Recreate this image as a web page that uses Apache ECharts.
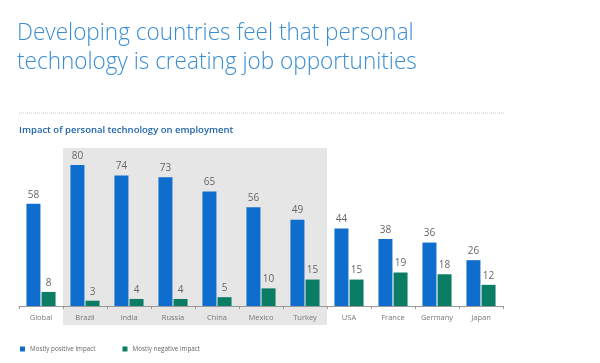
<!DOCTYPE html>
<html><head><meta charset="utf-8">
<script src="https://cdn.jsdelivr.net/npm/echarts@6/dist/echarts.min.js"></script>
<style>html,body{margin:0;padding:0;background:#fff;}#c{width:600px;height:363px;}</style>
</head><body><div id="c"></div>
<script>
var categories = ['Global','Brazil','India','Russia','China','Mexico','Turkey','USA','France','Germany','Japan'];
var positive = [58,80,74,73,65,56,49,44,38,36,26];
var negative = [8,3,4,4,5,10,15,15,19,18,12];
var seriesNames = ['Mostly positive impact','Mostly negative impact'];
var highlighted = ['Brazil','Turkey'];
var titleLines = ['Developing countries feel that personal','technology is creating job opportunities'];
var subtitle = 'Impact of personal technology on employment';

var chart = echarts.init(document.getElementById('c'), null, {renderer:'canvas'});
var labelStyle = {show:true, position:'top', distance:4, color:'#666', fontSize:10, fontFamily:'Open Sans'};
var option = {
  animation:false,
  backgroundColor:'#fff',
  grid:{left:19, right:97, top:165, bottom:57},
  xAxis:{type:'category', data:categories,
    axisLine:{lineStyle:{color:'#999', width:1}},
    axisTick:{show:true, length:3, lineStyle:{color:'#999'}},
    axisLabel:{color:'#777', fontSize:7.5, margin:8, interval:0, fontFamily:'Open Sans'}},
  yAxis:{type:'value', min:0, max:80, show:false, splitLine:{show:false}},
  legend:{left:15, top:341, itemWidth:5, itemHeight:5, itemGap:27, icon:'rect',
    textStyle:{color:'#666', fontSize:6.3, fontFamily:'Open Sans'}},
  series:[
    {name:seriesNames[0], type:'bar', data:positive, barWidth:14, barGap:'8%', itemStyle:{color:'#0f6ecd'}, label:labelStyle, z:3},
    {name:seriesNames[1], type:'bar', data:negative, barWidth:14, itemStyle:{color:'#0b7d64'}, label:labelStyle, z:3}
  ]
};
chart.setOption(option);

// gray highlight band spanning the highlighted categories, derived from the axis
var i0 = categories.indexOf(highlighted[0]), i1 = categories.indexOf(highlighted[1]);
var c0 = chart.convertToPixel({xAxisIndex:0}, categories[i0]);
var c1 = chart.convertToPixel({xAxisIndex:0}, categories[i1]);
var step = chart.convertToPixel({xAxisIndex:0}, categories[i0+1]) - c0;
var yTop = chart.convertToPixel({yAxisIndex:0}, 80);
var yZero = chart.convertToPixel({yAxisIndex:0}, 0);
var bandL = c0 - step/2, bandR = c1 + step/2;

chart.setOption({
  graphic:[
    {type:'rect', z:-10, silent:true, shape:{x:bandL, y:yTop-17, width:bandR-bandL, height:(yZero+19)-(yTop-17)}, style:{fill:'#e6e6e6'}},
    {type:'text', x:17, y:21, scaleX:0.92, style:{text:titleLines[0], fill:'#3a8dd3', font:'300 24.5px "Open Sans"'}},
    {type:'text', x:17, y:50, scaleX:0.92, style:{text:titleLines[1], fill:'#3a8dd3', font:'300 24.5px "Open Sans"'}},
    {type:'line', shape:{x1:19, y1:113, x2:504, y2:113}, style:{stroke:'#c8c8c8', lineWidth:1, lineDash:[1,1]}},
    {type:'text', left:19, top:125, style:{text:subtitle, fill:'#1d62ad', font:'600 9.5px "Open Sans"'}}
  ]
});
</script></body></html>
